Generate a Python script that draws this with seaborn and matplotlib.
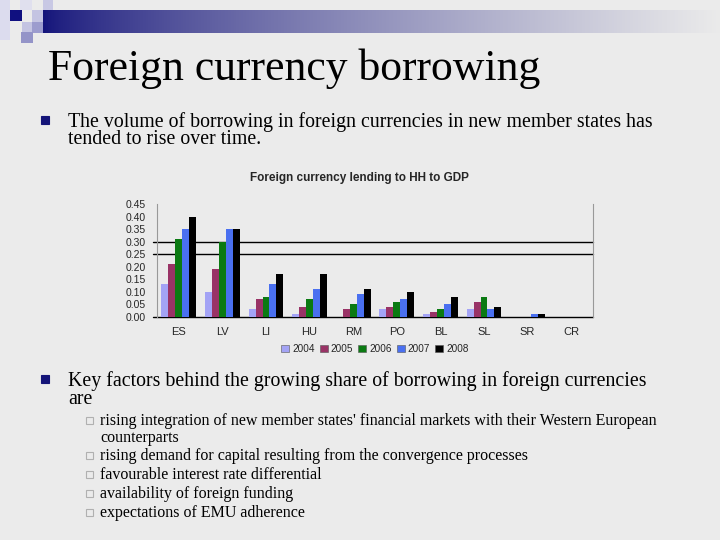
import numpy as np
import pandas as pd
import matplotlib
matplotlib.use("Agg")
import matplotlib.pyplot as plt
from matplotlib.patches import Rectangle
import seaborn as sns

countries = ["ES", "LV", "LI", "HU", "RM", "PO", "BL", "SL", "SR", "CR"]
years = ["2004", "2005", "2006", "2007", "2008"]
v2004 = [0.13, 0.10, 0.03, 0.01, 0.00, 0.03, 0.01, 0.03, 0.00, 0.00]
v2005 = [0.21, 0.19, 0.07, 0.04, 0.03, 0.04, 0.02, 0.06, 0.00, 0.00]
v2006 = [0.31, 0.30, 0.08, 0.07, 0.05, 0.06, 0.03, 0.08, 0.00, 0.00]
v2007 = [0.35, 0.35, 0.13, 0.11, 0.09, 0.07, 0.05, 0.03, 0.01, 0.00]
v2008 = [0.40, 0.35, 0.17, 0.17, 0.11, 0.10, 0.08, 0.04, 0.01, 0.00]
colors = ["#a3a3f5", "#993366", "#0b7a12", "#4a70f0", "#000000"]

slide_title = "Foreign currency borrowing"
chart_title = "Foreign currency lending to HH to GDP"
bullet1 = ["The volume of borrowing in foreign currencies in new member states has",
           "tended to rise over time."]
bullet2 = ["Key factors behind the growing share of borrowing in foreign currencies",
           "are"]
sub_bullets = [
    ["rising integration of new member states' financial markets with their Western European",
     "counterparts"],
    ["rising demand for capital resulting from the convergence processes"],
    ["favourable interest rate differential"],
    ["availability of foreign funding"],
    ["expectations of EMU adherence"],
]

df = pd.DataFrame({"country": countries * 5,
                   "year": np.repeat(years, len(countries)),
                   "value": v2004 + v2005 + v2006 + v2007 + v2008})

sns.set_style("white")
bg = "#ebebeb"
fig = plt.figure(figsize=(7.2, 5.4), dpi=100, facecolor=bg)

W, H = 720, 540
def fx(x):
    return x / W
def fy(y):
    return 1 - y / H

# header gradient band
band = fig.add_axes([fx(43), fy(33), fx(720 - 43), (33 - 10) / H])
grad = np.linspace(0, 1, 256) ** 0.75
navy = np.array([0.08, 0.08, 0.48])
light = np.array([0.92, 0.92, 0.92])
img = navy[None, :] * (1 - grad[:, None]) + light[None, :] * grad[:, None]
band.imshow(img[None, :, :], aspect="auto", extent=[0, 1, 0, 1])
band.axis("off")

# little squares in the corner
for (x, y, w, h, c) in [(0, 0, 10, 40, "#dcdcee"), (20, 0, 12, 10, "#e0e0ee"),
                        (10, 10, 12, 11, "#101080"), (32, 10, 11, 12, "#c4c4e2"),
                        (43, 0, 10, 10, "#c8c8e4"), (22, 22, 10, 10, "#c4c4e2"),
                        (32, 22, 11, 11, "#9c9cce"), (21, 32, 12, 11, "#9494c8")]:
    fig.patches.append(Rectangle((fx(x), fy(y + h)), w / W, h / H,
                                 transform=fig.transFigure, color=c, lw=0, zorder=5))

serif = ["Liberation Serif", "DejaVu Serif"]
fig.text(fx(48), fy(69), slide_title, family=serif, fontsize=31.5, va="center",
         ha="left", color="black")

def square(x, y, size, face, edge):
    fig.patches.append(Rectangle((fx(x - size / 2), fy(y + size / 2)), size / W, size / H,
                                 transform=fig.transFigure, facecolor=face,
                                 edgecolor=edge, lw=0.8, zorder=5))

def lines(x, ys, txts, size):
    for y, t in zip(ys, txts):
        fig.text(fx(x), fy(y + 2), t, family=serif, fontsize=size, va="center",
                 ha="left", color="black")

square(45, 120, 8, "#141478", "#141478")
lines(68, [120, 138], bullet1, 14.3)
square(45, 379, 8, "#141478", "#141478")
lines(68, [379, 397], bullet2, 14.3)

sub_y = [[419, 436], [454], [473], [492], [511]]
for ys, txt in zip(sub_y, sub_bullets):
    square(89, ys[0] + 1, 7, "none", "#b0b0b0")
    lines(100, ys, txt, 11.5)

# chart
sans = ["Liberation Sans", "DejaVu Sans"]
ax = fig.add_axes([fx(157), fy(317), fx(593 - 157), (317 - 204) / H])
ax.set_facecolor(bg)
sns.barplot(data=df, x="country", y="value", hue="year", palette=colors,
            width=0.8, ax=ax, saturation=1, edgecolor="none", legend=True)
ax.set_ylim(0, 0.45)
ax.set_xlim(-0.5, len(countries) - 0.5)
ticks = np.arange(0, 0.451, 0.05)
ax.set_yticks(ticks)
ax.set_yticklabels([f"{t:.2f}" for t in ticks])
ax.set_xlabel("")
ax.set_ylabel("")
for yl in [0.0, 0.25, 0.30]:
    ax.axhline(yl, xmin=-0.01, xmax=1, color="black", lw=1.0, zorder=0.5,
               clip_on=False)
ax.tick_params(axis="y", labelsize=7.5, length=0, pad=8)
ax.tick_params(axis="x", labelsize=8, length=0, pad=7)
for lab in ax.get_xticklabels() + ax.get_yticklabels():
    lab.set_family(sans)
ax.spines["top"].set_visible(False)
ax.spines["bottom"].set_visible(False)
ax.spines["left"].set_color("#999999")
ax.spines["left"].set_linewidth(0.8)
ax.spines["right"].set_color("#999999")
ax.spines["right"].set_linewidth(0.8)
fig.text(fx(359), fy(178), chart_title, family=sans, fontsize=8.5,
         fontweight="bold", ha="center", va="center")

handles, labels = ax.get_legend_handles_labels()
for h in handles:
    h.set_edgecolor("#555555")
    h.set_linewidth(0.4)
ax.legend(handles, labels, loc="center", bbox_to_anchor=(0.5, -0.283), ncol=5,
          frameon=False, handlelength=0.8, handleheight=0.8, handletextpad=0.3,
          columnspacing=0.5, prop={"family": sans, "size": 7.2})

fig.savefig("out.png", dpi=100, facecolor=bg)
